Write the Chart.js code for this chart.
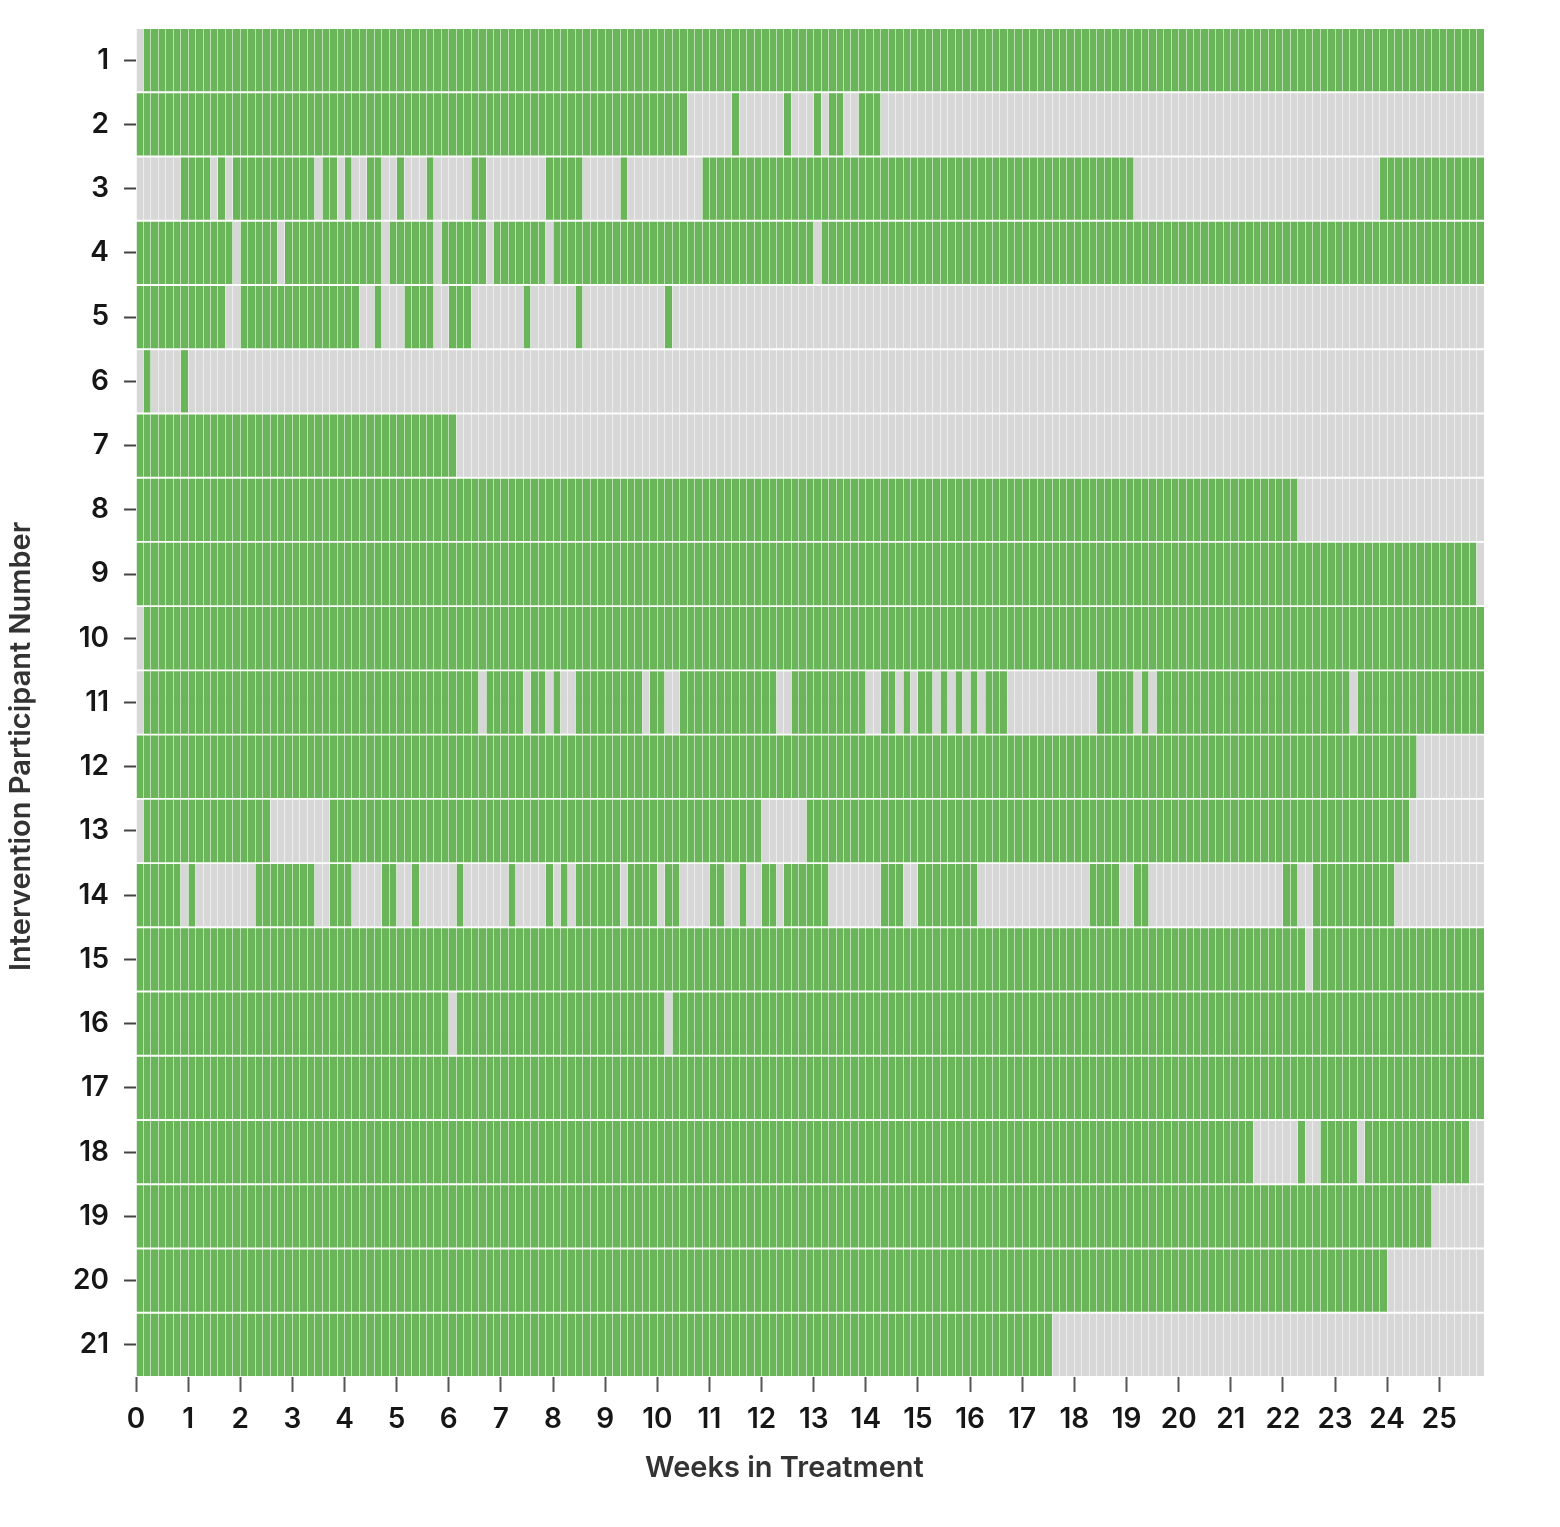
<!DOCTYPE html>
<html>
<head>
<meta charset="utf-8">
<title>Weeks in Treatment</title>
<script src="https://cdn.jsdelivr.net/npm/chart.js@4.4.1/dist/chart.umd.min.js"></script>
<style>
  html, body { margin: 0; padding: 0; background: #fff; }
  #wrap { width: 1560px; height: 1527px; }
</style>
</head>
<body>
<div id="wrap"><canvas id="chart"></canvas></div>
<script>
// rows, top to bottom
const participants = ['1', '2', '3', '4', '5', '6', '7', '8', '9', '10', '11',
  '12', '13', '14', '15', '16', '17', '18', '19', '20', '21'];

// length of the x axis in days
const totalDays = 181;

// days without activity (grey), as [firstDay, dayAfterLast]
const offDaysP1 = [[0, 1]];
const offDaysP2 = [[74, 80], [81, 87], [88, 91], [92, 93], [95, 97], [100, 181]];
const offDaysP3 = [[0, 6], [10, 11], [12, 13], [24, 25], [27, 28], [29, 31], [33, 35], [36, 39],
  [40, 45], [47, 55], [60, 65], [66, 76], [134, 167]];
const offDaysP4 = [[13, 14], [19, 20], [33, 34], [40, 41], [47, 48], [55, 56], [91, 92]];
const offDaysP5 = [[12, 14], [30, 32], [33, 36], [40, 42], [45, 52], [53, 59], [60, 71], [72, 181]];
const offDaysP6 = [[0, 1], [2, 6], [7, 181]];
const offDaysP7 = [[43, 181]];
const offDaysP8 = [[156, 181]];
const offDaysP9 = [[180, 181]];
const offDaysP10 = [[0, 1]];
const offDaysP11 = [[0, 1], [46, 47], [52, 53], [55, 56], [57, 59], [68, 69], [71, 73], [86, 88],
  [98, 100], [102, 103], [104, 105], [107, 108], [109, 110], [111, 112], [113, 114],
  [117, 129], [134, 135], [136, 137], [163, 164]];
const offDaysP12 = [[172, 181]];
const offDaysP13 = [[0, 1], [18, 26], [84, 90], [171, 181]];
const offDaysP14 = [[6, 7], [8, 16], [24, 26], [29, 33], [35, 37], [38, 43], [44, 50], [51, 55],
  [56, 57], [58, 59], [65, 66], [70, 71], [73, 77], [79, 81], [82, 84], [86, 87], [93, 100],
  [103, 105], [113, 128], [132, 134], [136, 154], [156, 158], [169, 181]];
const offDaysP15 = [[157, 158]];
const offDaysP16 = [[42, 43], [71, 72]];
const offDaysP17 = [];
const offDaysP18 = [[150, 156], [157, 159], [164, 165], [179, 181]];
const offDaysP19 = [[174, 181]];
const offDaysP20 = [[168, 181]];
const offDaysP21 = [[123, 181]];

const offDays = [offDaysP1, offDaysP2, offDaysP3, offDaysP4, offDaysP5, offDaysP6, offDaysP7,
  offDaysP8, offDaysP9, offDaysP10, offDaysP11, offDaysP12, offDaysP13, offDaysP14,
  offDaysP15, offDaysP16, offDaysP17, offDaysP18, offDaysP19, offDaysP20, offDaysP21];

const GREEN = '#6ab55a';
const GREY = '#d7d7d7';
const FONT = 'Inter, "Noto Sans", "Liberation Sans", sans-serif';

// turn the grey ranges into floating bars (in weeks), green fills the rest
const activeBars = [];
const inactiveBars = [];
participants.forEach((p, i) => {
  let day = 0;
  offDays[i].forEach(([a, b]) => {
    if (a > day) activeBars.push({ y: p, x: [day / 7, a / 7] });
    inactiveBars.push({ y: p, x: [a / 7, b / 7] });
    day = b;
  });
  if (day < totalDays) activeBars.push({ y: p, x: [day / 7, totalDays / 7] });
});

new Chart(document.getElementById('chart'), {
  type: 'bar',
  data: {
    labels: participants,
    datasets: [
      {
        label: 'Active',
        data: activeBars,
        backgroundColor: GREEN,
        grouped: false,
        barPercentage: 0.97,
        categoryPercentage: 1
      },
      {
        label: 'Inactive',
        data: inactiveBars,
        backgroundColor: GREY,
        grouped: false,
        barPercentage: 0.97,
        categoryPercentage: 1
      }
    ]
  },
  options: {
    indexAxis: 'y',
    responsive: true,
    maintainAspectRatio: false,
    animation: false,
    layout: { padding: { left: 4, right: 76, top: 28, bottom: 0 } },
    plugins: {
      legend: { display: false },
      tooltip: { enabled: false }
    },
    scales: {
      x: {
        type: 'linear',
        position: 'bottom',
        min: 0,
        max: totalDays / 7,
        border: { display: false },
        grid: { drawOnChartArea: false, tickLength: 15, tickColor: '#555', tickWidth: 2 },
        ticks: {
          stepSize: 1,
          includeBounds: false,
          autoSkip: false,
          maxRotation: 0,
          padding: 11,
          color: '#161616',
          font: { family: FONT, size: 28, weight: '600' }
        },
        title: {
          display: true,
          // trailing spaces nudge the title left, like the original
          text: 'Weeks in Treatment       ',
          color: '#333',
          font: { family: FONT, size: 29, weight: '600' },
          padding: { top: 0, bottom: 41 }
        },
        afterFit: (s) => { s.height = 150; }
      },
      // one thin white line per day, drawn over the bars
      xDays: {
        type: 'linear',
        position: 'top',
        min: 0,
        max: totalDays,
        border: { display: false },
        grid: { color: 'rgba(255,255,255,0.55)', lineWidth: 1, drawTicks: false, z: 1 },
        ticks: { display: false, stepSize: 1, autoSkip: false },
        afterFit: (s) => { s.height = 0; }
      },
      y: {
        type: 'category',
        labels: participants,
        offset: true,
        border: { display: false },
        grid: { offset: false, drawOnChartArea: false, tickLength: 12, tickColor: '#444', tickWidth: 2 },
        ticks: {
          padding: 15,
          color: '#161616',
          font: { family: FONT, size: 28, weight: '600' }
        },
        title: {
          display: true,
          // trailing spaces move the rotated title down a little
          text: 'Intervention Participant Number            ',
          color: '#333',
          font: { family: FONT, size: 29, weight: '600' },
          padding: 0
        },
        afterFit: (s) => {
          s.width = 132;
          // rows run edge to edge, so the labels need no extra room above/below
          s.paddingTop = 0;
          s.paddingBottom = 0;
        }
      }
    }
  }
});
</script>
</body>
</html>
